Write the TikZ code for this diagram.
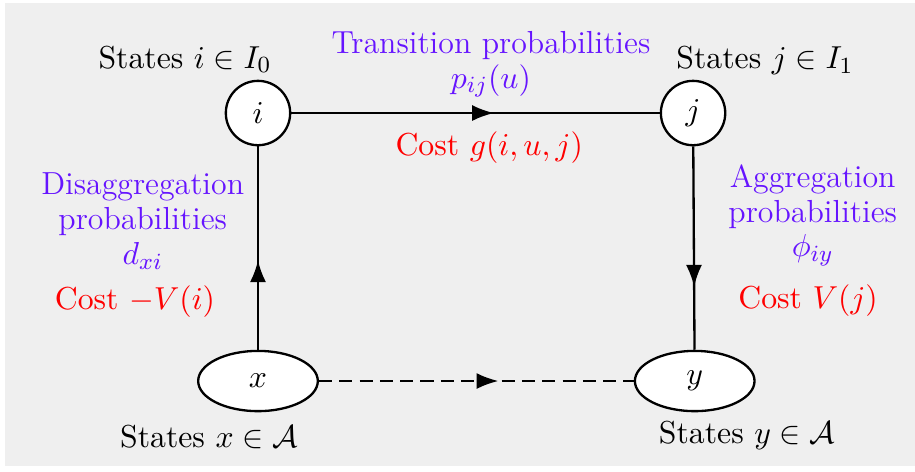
\documentclass[tikz,border=0pt,11pt]{standalone}
\usepackage{amsmath,amssymb}
\usepackage{xcolor}
\usetikzlibrary{positioning,arrows.meta,decorations.markings,shapes.geometric}

\definecolor{probcolor}{RGB}{102,20,255}
\definecolor{bgcolor}{RGB}{239,239,239}

\begin{document}
\begin{tikzpicture}[
state/.style={
	circle,
	draw,
	thick,
	fill=white,
	minimum size=0.78cm,
	inner sep=0pt
},
aggstate/.style={
	ellipse,
	draw,
	thick,
	fill=white,
	minimum width=1.45cm,
	minimum height=0.73cm,
	inner sep=0pt
},
prob/.style={text=probcolor, align=center, font=\fontsize{11}{12}\selectfont},
cost/.style={text=red, align=center},
midarrow/.style={
	thick,
	postaction={decorate},
	decoration={markings,
		mark=at position #1 with {\arrow{Latex[length=7.5pt,width=5.5pt]}}}
}
]

\useasboundingbox (0,0) rectangle (11.09,-5.709);
\fill[bgcolor] (0.06,-0.04) rectangle (11.09,-5.65);

\node[state] (i) at (3.127,-1.37) {$i$};
\node[state] (j) at (8.40,-1.37) {$j$};
\node[aggstate] (x) at (3.127,-4.618) {$x$};
\node[aggstate] (y) at (8.42,-4.618) {$y$};

\node (statesi) at (2.242,-0.72) {States $i\in I_0$};
\node (statesj) at (9.27,-0.73) {States $j\in I_1$};
\node (statesx) at (2.533,-5.30) {States $x\in\mathcal{A}$};
\node (statesy) at (9.055,-5.28) {States $y\in\mathcal{A}$};

\node[prob] (trans) at (5.95,-0.78) {Transition probabilities\\$p_{ij}(u)$};
\node[cost] (costg) at (5.93,-1.79) {Cost $g(i,u,j)$};

\node[prob] (disagg) at (1.73,-2.68) {Disaggregation\\probabilities\\$d_{xi}$};
\node[cost] (costvi) at (1.636,-3.65) {Cost $-V(i)$};

\node[prob] (agg) at (9.85,-2.61) {Aggregation\\probabilities\\$\phi_{iy}$};
\node[cost] (costvj) at (9.794,-3.64) {Cost $V(j)$};

\draw[midarrow=0.55] (i) -- (j);
\draw[midarrow=0.44] (x) -- (i);
\draw[midarrow=0.69] (j) -- (y);
\draw[midarrow=0.57, dash pattern=on 4.5pt off 2.5pt] (x) -- (y);

\end{tikzpicture}
\end{document}
